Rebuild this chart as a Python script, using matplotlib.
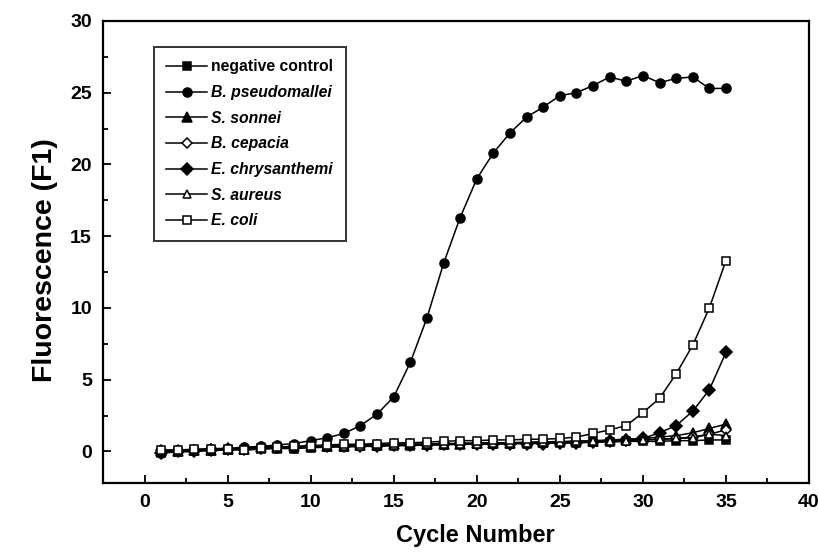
import matplotlib.pyplot as plt
from matplotlib.ticker import MultipleLocator

plt.rcParams['font.family'] = ['Liberation Sans', 'DejaVu Sans']
plt.rcParams['font.weight'] = 'bold'

# data
cycles = list(range(1, 36))

neg_control = [-0.1, -0.05, 0.0, 0.05, 0.1, 0.1, 0.15, 0.2, 0.2, 0.25, 0.3, 0.3, 0.35, 0.35, 0.4,
               0.4, 0.45, 0.45, 0.5, 0.5, 0.5, 0.55, 0.55, 0.6, 0.6, 0.6, 0.65, 0.65, 0.7, 0.7,
               0.7, 0.75, 0.75, 0.8, 0.8]
b_pseudomallei = [-0.1, 0.0, 0.1, 0.15, 0.2, 0.3, 0.35, 0.45, 0.55, 0.75, 0.95, 1.25, 1.8, 2.6, 3.8,
                  6.2, 9.3, 13.1, 16.3, 19.0, 20.8, 22.2, 23.3, 24.0, 24.8, 25.0, 25.5, 26.1, 25.8, 26.2,
                  25.7, 26.0, 26.1, 25.3, 25.3]
s_sonnei = [0.0, 0.05, 0.1, 0.1, 0.15, 0.2, 0.3, 0.3, 0.35, 0.35, 0.4, 0.4, 0.45, 0.45, 0.5,
            0.5, 0.5, 0.55, 0.55, 0.6, 0.6, 0.6, 0.65, 0.65, 0.7, 0.7, 0.75, 0.8, 0.85, 0.9,
            1.0, 1.1, 1.3, 1.6, 1.9]
b_cepacia = [0.1, 0.05, 0.1, 0.15, 0.2, 0.15, 0.25, 0.3, 0.3, 0.35, 0.35, 0.4, 0.4, 0.45, 0.45,
             0.5, 0.5, 0.5, 0.55, 0.55, 0.6, 0.6, 0.6, 0.65, 0.65, 0.7, 0.7, 0.75, 0.75, 0.8,
             0.85, 0.9, 1.0, 1.2, 1.5]
e_chrysanthemi = [-0.1, 0.0, 0.05, 0.1, 0.15, 0.2, 0.25, 0.3, 0.3, 0.35, 0.35, 0.4, 0.4, 0.4, 0.45,
                  0.45, 0.45, 0.5, 0.5, 0.5, 0.5, 0.55, 0.55, 0.55, 0.6, 0.6, 0.65, 0.7, 0.8, 0.9,
                  1.3, 1.8, 2.8, 4.3, 6.9]
s_aureus = [0.0, 0.05, 0.1, 0.1, 0.15, 0.2, 0.25, 0.3, 0.3, 0.35, 0.4, 0.4, 0.4, 0.45, 0.45,
            0.5, 0.5, 0.5, 0.55, 0.55, 0.6, 0.6, 0.6, 0.65, 0.65, 0.7, 0.7, 0.75, 0.75, 0.8,
            0.85, 0.9, 0.95, 1.2, 1.1]
e_coli = [0.1, 0.1, 0.15, 0.2, 0.2, 0.1, 0.25, 0.3, 0.35, 0.4, 0.45, 0.5, 0.5, 0.55, 0.6,
          0.6, 0.65, 0.7, 0.75, 0.75, 0.8, 0.8, 0.85, 0.85, 0.9, 1.0, 1.25, 1.5, 1.8, 2.7,
          3.7, 5.4, 7.4, 10.0, 13.3]

labels = ['negative control', 'B. pseudomallei', 'S. sonnei', 'B. cepacia',
          'E. chrysanthemi', 'S. aureus', 'E. coli']
series = [neg_control, b_pseudomallei, s_sonnei, b_cepacia, e_chrysanthemi, s_aureus, e_coli]
markers = ['s', 'o', '^', 'D', 'D', '^', 's']
fills = ['black', 'black', 'black', 'white', 'black', 'white', 'white']
sizes = [5.5, 6.5, 6.5, 5, 6, 6, 6]

fig = plt.figure(figsize=(8.2, 5.57), dpi=100)
ax = fig.add_axes([0.1256, 0.1329, 0.861, 0.8294])

for y, lab, m, fc, ms in zip(series, labels, markers, fills, sizes):
    ax.plot(cycles, y, color='black', lw=1.1, marker=m, markersize=ms,
            markerfacecolor=fc, markeredgecolor='black', markeredgewidth=1.1, label=lab)

ax.set_xlim(-2.5, 40)
ax.set_ylim(-2.2, 30)
ax.xaxis.set_major_locator(MultipleLocator(5))
ax.xaxis.set_minor_locator(MultipleLocator(2.5))
ax.yaxis.set_major_locator(MultipleLocator(5))
ax.yaxis.set_minor_locator(MultipleLocator(2.5))
ax.tick_params(which='both', direction='in', top=False, right=False, width=1.3)
ax.tick_params(which='major', length=6, labelsize=14, pad=8)
ax.tick_params(which='minor', length=3.5)
for lbl in ax.get_xticklabels() + ax.get_yticklabels():
    lbl.set_fontweight('bold')
for s in ax.spines.values():
    s.set_linewidth(1.6)

ax.set_xlabel('Cycle Number', fontsize=17, fontweight='bold')
ax.set_ylabel('Fluorescence (F1)', fontsize=20.5, fontweight='bold')
ax.xaxis.set_label_coords(0.527, -0.088)
ax.yaxis.set_label_coords(-0.064, 0.483)

leg = ax.legend(loc='upper left', bbox_to_anchor=(0.072, 0.944), fontsize=11.3,
                frameon=True, fancybox=False, edgecolor='black', handlelength=2.6,
                labelspacing=0.68, borderpad=0.8, handletextpad=0.25, borderaxespad=0)
leg.get_frame().set_linewidth(1.4)
for i, t in enumerate(leg.get_texts()):
    t.set_fontweight('bold')
    if i > 0:
        t.set_fontstyle('italic')

fig.savefig('out.png', dpi=100)
